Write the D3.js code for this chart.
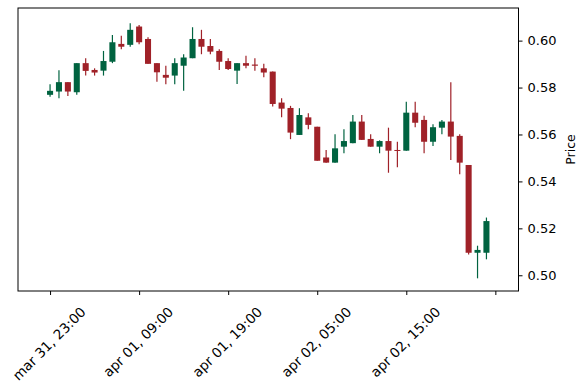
<!DOCTYPE html>
<html>
<head>
<meta charset="utf-8">
<script src="https://cdn.jsdelivr.net/npm/d3@7"></script>
<style>
html,body{margin:0;padding:0;background:#fff;}
svg{display:block;font-family:"DejaVu Sans",sans-serif;}
</style>
</head>
<body>
<svg id="chart" width="587" height="390"></svg>
<script>
// candle index (hourly, starting mar 31, 23:00)
const openV  = [0.5769,0.5783,0.5823,0.5780,0.5904,0.5875,0.5872,0.5910,0.5986,0.5982,
                0.6060,0.6007,0.5904,0.5854,0.5851,0.5893,0.5925,0.6007,0.5977,0.5956,
                0.5913,0.5872,0.5904,0.5898,0.5882,0.5868,0.5736,0.5713,0.5598,0.5673,
                0.5633,0.5502,0.5480,0.5548,0.5563,0.5655,0.5581,0.5548,0.5572,0.5534,
                0.5531,0.5693,0.5662,0.5569,0.5629,0.5655,0.5594,0.5470,0.5096,0.5096];
const highV  = [0.5814,0.5874,0.5823,0.5904,0.5925,0.5882,0.5956,0.6024,0.6021,0.6074,
                0.6067,0.6014,0.5904,0.5893,0.5925,0.5942,0.6057,0.6046,0.6007,0.5963,
                0.5925,0.5904,0.5935,0.5925,0.5901,0.5868,0.5754,0.5722,0.5712,0.5691,
                0.5633,0.5534,0.5601,0.5622,0.5683,0.5683,0.5601,0.5575,0.5629,0.5569,
                0.5740,0.5740,0.5680,0.5644,0.5662,0.5823,0.5601,0.5470,0.5126,0.5246];
const lowV   = [0.5761,0.5754,0.5764,0.5769,0.5851,0.5851,0.5851,0.5904,0.5963,0.5974,
                0.5985,0.5901,0.5825,0.5814,0.5814,0.5786,0.5925,0.5942,0.5942,0.5875,
                0.5875,0.5815,0.5882,0.5872,0.5844,0.5719,0.5673,0.5580,0.5598,0.5622,
                0.5488,0.5480,0.5480,0.5520,0.5563,0.5577,0.5548,0.5520,0.5437,0.5460,
                0.5531,0.5631,0.5520,0.5551,0.5601,0.5491,0.5431,0.5089,0.4987,0.5068];
const closeV = [0.5786,0.5823,0.5783,0.5904,0.5871,0.5864,0.5913,0.5993,0.5974,0.6046,
                0.5993,0.5901,0.5865,0.5842,0.5904,0.5928,0.6007,0.5974,0.5953,0.5910,
                0.5879,0.5904,0.5893,0.5893,0.5864,0.5730,0.5710,0.5608,0.5683,0.5641,
                0.5488,0.5480,0.5541,0.5572,0.5655,0.5577,0.5548,0.5572,0.5531,0.5530,
                0.5693,0.5650,0.5569,0.5631,0.5655,0.5591,0.5480,0.5096,0.5108,0.5231];
const xTickIdx    = [0,10,20,30,40,50];
const xTickLabels = ["mar 31, 23:00","apr 01, 09:00","apr 01, 19:00","apr 02, 05:00","apr 02, 15:00",""];
const yTicks      = [0.50,0.52,0.54,0.56,0.58,0.60];
const upColor = "#006340", downColor = "#a02128";

const svg = d3.select("#chart");
const L = 18, R = 518.5, T = 8, B = 291;
const x = d3.scaleLinear().domain([-3.6, 52.6]).range([L, R]);
const y = d3.scaleLinear().domain([0.4933, 0.6139]).range([B, T]);

const data = openV.map((o,i)=>({i, o, h:highV[i], l:lowV[i], c:closeV[i]}));
const bw = x(0.34) - x(0);

const g = svg.append("g");
g.selectAll("line.wick").data(data).enter().append("line")
  .attr("x1", d=>x(d.i)).attr("x2", d=>x(d.i))
  .attr("y1", d=>y(d.h)).attr("y2", d=>y(d.l))
  .attr("stroke", d=> d.c>=d.o?upColor:downColor).attr("stroke-width",1.2);
g.selectAll("rect.body").data(data).enter().append("rect")
  .attr("x", d=>x(d.i)-bw).attr("width", 2*bw)
  .attr("y", d=>y(Math.max(d.o,d.c)))
  .attr("height", d=>Math.max(1, Math.abs(y(d.o)-y(d.c))))
  .attr("fill", d=> d.c>=d.o?upColor:downColor);

// frame
svg.append("rect").attr("x",L).attr("y",T).attr("width",R-L).attr("height",B-T)
  .attr("fill","none").attr("stroke","#000").attr("stroke-width",1);

// right y axis
const yAxis = d3.axisRight(y).tickValues(yTicks).tickFormat(d3.format(".2f")).tickSize(4).tickPadding(5);
const ya = svg.append("g").attr("transform",`translate(${R},0)`).call(yAxis);
ya.select(".domain").remove();
ya.selectAll("text").attr("font-size",13).attr("fill","#000").attr("font-family","DejaVu Sans");
ya.selectAll("line").attr("stroke","#000");

// bottom x axis
const xAxis = d3.axisBottom(x).tickValues(xTickIdx).tickFormat(()=>"").tickSize(4);
const xa = svg.append("g").attr("transform",`translate(0,${B})`).call(xAxis);
xa.select(".domain").remove();
xa.selectAll("line").attr("stroke","#000");

xTickIdx.forEach((idx,k)=>{
  const lab = xTickLabels[k];
  if(!lab) return;
  const t = svg.append("text").text(lab).attr("font-size",13.6).attr("fill","#000")
    .attr("text-anchor","middle").attr("dominant-baseline","central");
  const len = t.node().getComputedTextLength();
  const half = (len*0.7071 + 15*0.7071)/2;
  const cx = x(idx) - 1, cy = 304 + half;
  t.attr("x",cx).attr("y",cy).attr("transform",`rotate(-45,${cx},${cy})`);
});

// y label
svg.append("text").text("Price").attr("font-size",12.5).attr("fill","#000")
  .attr("text-anchor","middle")
  .attr("transform",`translate(575,${(T+B)/2}) rotate(-90)`);
</script>
</body>
</html>
